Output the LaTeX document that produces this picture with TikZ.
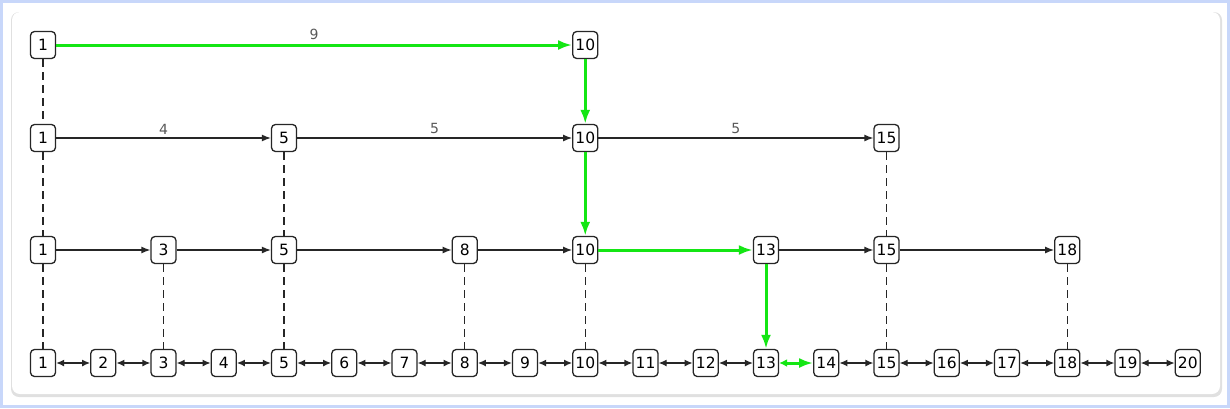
\documentclass[tikz,border=0pt]{standalone}
\usepackage{fontspec}
\setmainfont{DejaVu Sans}
\usetikzlibrary{arrows.meta}
\definecolor{hl}{RGB}{20,230,20}
\definecolor{frm}{RGB}{200,215,250}
\begin{document}
\begin{tikzpicture}[x=1pt,y=-1pt,
  nd/.style={draw=black!85,line width=1.3pt,rounded corners=4pt,fill=white,minimum width=25pt,minimum height=27pt,inner sep=1pt,font=\fontsize{15.5}{17}\selectfont},
  ar/.style={-{Latex[length=9pt,width=7pt]},black!85,line width=1.3pt},
  bi/.style={{Latex[length=8pt,width=7pt]}-{Latex[length=8pt,width=7pt]},black!85,line width=1.3pt},
  gr/.style={-{Latex[length=14pt,width=10pt]},hl,line width=3pt},
  ds/.style={black!85,line width=1.4pt,dash pattern=on 8pt off 5pt},
  lb/.style={font=\fontsize{14}{16}\selectfont,text=black!65,above}]
\useasboundingbox (0,0) rectangle (1230,408);
\draw[draw=frm,line width=3pt] (1.5,1.5) rectangle (1228.5,406.5);
\fill[black!12,rounded corners=8pt] (11,12) rectangle (1222,397);
\fill[white,rounded corners=8pt] (12,12) rectangle (1220,394);
% bottom row
\foreach \i [evaluate=\i as \x using 43+(\i-1)*60.25] in {1,...,20}
  \node[nd] (b\i) at (\x,363) {\i};
\foreach \i [evaluate=\i as \j using int(\i+1)] in {1,...,12,14,15,...,19}
  \draw[bi] (b\i) -- (b\j);
% row 3
\foreach \i [evaluate=\i as \x using 43+(\i-1)*60.25] in {1,3,5,8,10,13,15,18}
  \node[nd] (c\i) at (\x,250) {\i};
\draw[ar] (c1)--(c3); \draw[ar] (c3)--(c5); \draw[ar] (c5)--(c8);
\draw[ar] (c8)--(c10); \draw[ar] (c13)--(c15); \draw[ar] (c15)--(c18);
% row 2
\foreach \i [evaluate=\i as \x using 43+(\i-1)*60.25] in {1,5,10,15}
  \node[nd] (d\i) at (\x,138) {\i};
\draw[ar] (d1)-- node[lb]{4} (d5);
\draw[ar] (d5)-- node[lb]{5} (d10);
\draw[ar] (d10)-- node[lb]{5} (d15);
% row 1
\node[nd] (e1) at (43,45) {1};
\node[nd] (e10) at (585.25,45) {10};
% dashed verticals
\draw[ds] (e1)--(d1); \draw[ds] (d1)--(c1); \draw[ds] (c1)--(b1);
\draw[ds] (c3)--(b3);
\draw[ds] (d5)--(c5); \draw[ds] (c5)--(b5);
\draw[ds] (c8)--(b8);
\draw[ds] (c10)--(b10);
\draw[ds] (d15)--(c15); \draw[ds] (c15)--(b15);
\draw[ds] (c18)--(b18);
% green path
\draw[gr] (e1)-- node[lb,text=black!65]{9} (e10);
\draw[gr] (e10)--(d10);
\draw[gr] (d10)--(c10);
\draw[gr] (c10)--(c13);
\draw[gr] (c13)--(b13);
\draw[gr,{Latex[length=8pt,width=8pt]}-{Latex[length=14pt,width=10pt]}] (b13)--(b14);
\end{tikzpicture}
\end{document}
